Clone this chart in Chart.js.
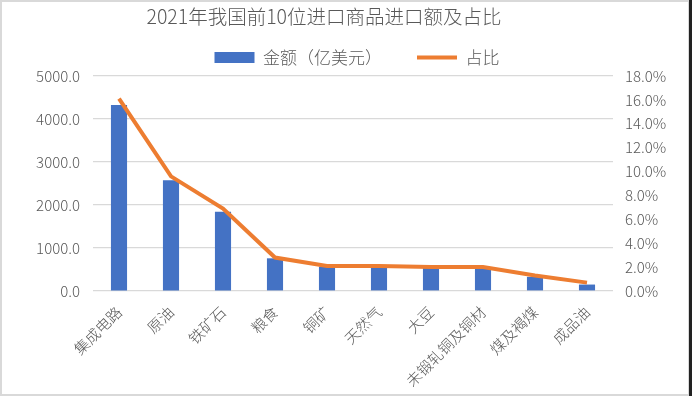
<!DOCTYPE html>
<html>
<head>
<meta charset="utf-8">
<script src="https://cdn.jsdelivr.net/npm/chart.js@4/dist/chart.umd.min.js"></script>
<style>
html,body{margin:0;padding:0;background:#fff;}
#wrap{width:692px;height:396px;position:relative;}
</style>
</head>
<body>
<div id="wrap"><canvas id="c" width="692" height="396"></canvas></div>
<script>
const chartTitle = '2021年我国前10位进口商品进口额及占比';
const categories = ['集成电路','原油','铁矿石','粮食','铜矿','天然气','大豆','未锻轧铜及铜材','煤及褐煤','成品油'];
const amountLabel = '金额（亿美元）';
const amounts = [4326, 2573, 1845, 760, 565, 591, 535, 541, 330, 150];
const shareLabel = '占比';
const shares = [16.1, 9.6, 6.9, 2.8, 2.1, 2.1, 2.0, 2.0, 1.3, 0.7];
const leftTicks = [0, 1000, 2000, 3000, 4000, 5000];
const rightTicks = [0, 2, 4, 6, 8, 10, 12, 14, 16, 18];

const FONT = "'Noto Sans CJK SC', 'Liberation Sans', sans-serif";
const GREY = '#595959';

const framePlugin = {
  id: 'frame',
  beforeDraw(chart) {
    const ctx = chart.ctx;
    ctx.save();
    ctx.fillStyle = '#fff';
    ctx.fillRect(0, 0, chart.width, chart.height);
    ctx.restore();
  },
  afterDraw(chart) {
    const ctx = chart.ctx;
    ctx.save();
    ctx.strokeStyle = '#d9d9d9';
    ctx.lineWidth = 2;
    ctx.strokeRect(1, 1, chart.width - 4, chart.height - 2);
    ctx.strokeStyle = '#222';
    ctx.lineWidth = 3;
    ctx.beginPath();
    ctx.moveTo(chart.width - 1.5, 0);
    ctx.lineTo(chart.width - 1.5, chart.height);
    ctx.stroke();
    // title
    ctx.fillStyle = GREY;
    ctx.font = "300 19.5px " + FONT;
    ctx.textAlign = 'center';
    ctx.textBaseline = 'middle';
    ctx.fillText(chartTitle, 324, 17);
    ctx.restore();
  }
};

new Chart(document.getElementById('c'), {
  data: {
    labels: categories,
    datasets: [
      {
        type: 'line',
        label: shareLabel,
        data: shares,
        yAxisID: 'y1',
        borderColor: '#ED7D31',
        backgroundColor: '#ED7D31',
        borderWidth: 4,
        pointRadius: 0,
        tension: 0,
        pointStyle: 'line',
        order: 0
      },
      {
        type: 'bar',
        label: amountLabel,
        data: amounts,
        yAxisID: 'y',
        backgroundColor: '#4472C4',
        barPercentage: 0.31,
        categoryPercentage: 1,
        pointStyle: 'rect',
        order: 1
      }
    ]
  },
  options: {
    responsive: false,
    animation: false,
    layout: { padding: { left: 22, right: 0, top: 14, bottom: 0 } },
    plugins: {
      title: { display: false },
      tooltip: { enabled: false },
      legend: {
        position: 'top',
        reverse: true,
        labels: {
          usePointStyle: true,
          pointStyleWidth: 40,
          boxHeight: 11,
          padding: 35,
          color: GREY,
          font: { family: FONT, size: 17, weight: 300 }
        }
      }
    },
    scales: {
      x: {
        grid: { display: false },
        border: { display: false },
        ticks: {
          color: GREY,
          font: { family: FONT, size: 15, weight: 300 },
          minRotation: 45,
          maxRotation: 45,
          padding: 4
        },
        afterFit(scale) { scale.height = 105; }
      },
      y: {
        position: 'left',
        min: 0,
        max: 5000,
        afterBuildTicks(scale) { scale.ticks = leftTicks.map(v => ({ value: v })); },
        grid: { color: '#d9d9d9', lineWidth: 1.2, drawTicks: false },
        border: { display: false },
        ticks: {
          color: GREY,
          font: { family: FONT, size: 15, weight: 300 },
          padding: 13,
          callback: v => Number(v).toFixed(1)
        },
        afterFit(scale) { scale.width = 71; }
      },
      y1: {
        position: 'right',
        min: 0,
        max: 18,
        afterBuildTicks(scale) { scale.ticks = rightTicks.map(v => ({ value: v })); },
        grid: { display: false, drawTicks: false },
        border: { display: false },
        ticks: {
          color: GREY,
          font: { family: FONT, size: 15, weight: 300 },
          padding: 12,
          callback: v => Number(v).toFixed(1) + '%'
        },
        afterFit(scale) { scale.width = 79; }
      }
    }
  },
  plugins: [framePlugin]
});
</script>
</body>
</html>
